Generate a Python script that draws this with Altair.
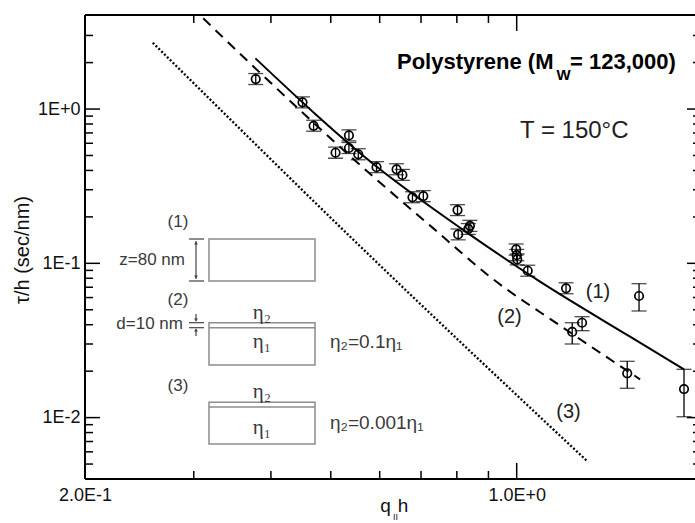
import altair as alt
import pandas as pd

# ---------------- data ----------------
pt_q = [0.378, 0.450, 0.469, 0.509, 0.535, 0.535, 0.554, 0.593, 0.639, 0.653,
        0.678, 0.706, 0.802, 0.804, 0.835, 0.840, 0.998, 1.000, 1.002, 1.042,
        1.202, 1.230, 1.276, 1.510, 1.578, 1.866]
pt_tau = [1.565, 1.105, 0.779, 0.521, 0.675, 0.559, 0.509, 0.420, 0.407, 0.374,
          0.268, 0.273, 0.2215, 0.154, 0.167, 0.175, 0.123, 0.113, 0.106, 0.0895,
          0.0689, 0.0359, 0.0412, 0.01937, 0.0614, 0.01532]
pt_lo = [1.442, 1.018, 0.718, 0.480, 0.622, 0.515, 0.469, 0.387, 0.375, 0.345,
         0.247, 0.251, 0.204, 0.142, 0.154, 0.161, 0.113, 0.104, 0.0977, 0.0825,
         0.0635, 0.0300, 0.0366, 0.01549, 0.0491, 0.01013]
pt_hi = [1.699, 1.199, 0.846, 0.566, 0.733, 0.607, 0.553, 0.456, 0.442, 0.406,
         0.291, 0.296, 0.240, 0.167, 0.181, 0.190, 0.1335, 0.123, 0.115, 0.0972,
         0.0748, 0.0412, 0.0451, 0.02317, 0.0738, 0.02056]

# model curves
c1_q = [0.3775, 0.5935, 0.820, 1.091, 1.526, 1.866]
c1_tau = [2.131, 0.4227, 0.1643, 0.0760, 0.03344, 0.02056]
c2_q = [0.3108, 0.3654, 0.586, 0.733, 0.905, 1.183, 1.584]
c2_tau = [3.871, 2.078, 0.3641, 0.1685, 0.0819, 0.0388, 0.01771]
c3_q = [0.2575, 0.586, 1.298]
c3_tau = [2.690, 0.1066, 0.00526]

# axis ticks
x_labels = [0.2, 1.0]
x_minor = [0.3, 0.4, 0.5, 0.6, 0.7, 0.8, 0.9]
x_major = [1.0]
y_labels = [1, 0.1, 0.01]
y_minor = [3, 2, 0.9, 0.8, 0.7, 0.6, 0.5, 0.4, 0.3, 0.2,
           0.09, 0.08, 0.07, 0.06, 0.05, 0.04, 0.03, 0.02,
           0.009, 0.008, 0.007, 0.006, 0.005]
y_major = [1, 0.1, 0.01]

# ---------------- setup ----------------
W, H = 610, 464
SANS = "Liberation Sans"
SERIF = "Liberation Serif"

xs = alt.Scale(type="log", domain=[0.2, 1.944], nice=False)
ys = alt.Scale(type="log", domain=[0.004, 4.07], nice=False)
xaxis = alt.Axis(values=x_labels, labelExpr="upper(format(datum.value, '.1e'))",
                 ticks=False, domain=False, grid=False, labelFont=SANS,
                 labelFontSize=18, labelColor="#111", labelPadding=7,
                 labelFlush=False, title=None)
yaxis = alt.Axis(values=y_labels, labelExpr="upper(format(datum.value, '.0e'))",
                 ticks=False, domain=False, grid=False, labelFont=SANS,
                 labelFontSize=18, labelColor="#111", labelPadding=5,
                 title=None)


def X(f):
    return alt.X(f, type="quantitative", scale=xs, axis=xaxis)


def Y(f):
    return alt.Y(f, type="quantitative", scale=ys, axis=yaxis)


pts = pd.DataFrame({"q": pt_q, "tau": pt_tau, "lo": pt_lo, "hi": pt_hi})
one = pd.DataFrame({"k": [0]})

layers = []

# frame
layers.append(alt.Chart(one).mark_rule(color="black", strokeWidth=2).encode(
    x=alt.value(0), x2=alt.value(W), y=alt.value(0)))
layers.append(alt.Chart(one).mark_rule(color="black", strokeWidth=2).encode(
    x=alt.value(0), x2=alt.value(W), y=alt.value(H)))
layers.append(alt.Chart(one).mark_rule(color="black", strokeWidth=2).encode(
    x=alt.value(0), y=alt.value(0), y2=alt.value(H)))

# ticks (inward)
xmin_df = pd.DataFrame({"v": x_minor})
xmaj_df = pd.DataFrame({"v": x_major})
ymin_df = pd.DataFrame({"v": y_minor})
ymaj_df = pd.DataFrame({"v": y_major})
tk = dict(color="black", strokeWidth=1.5)
layers += [
    alt.Chart(xmin_df).mark_rule(**tk).encode(x=X("v"), y=alt.value(0), y2=alt.value(8)),
    alt.Chart(xmaj_df).mark_rule(**tk).encode(x=X("v"), y=alt.value(0), y2=alt.value(16)),
    alt.Chart(xmin_df).mark_rule(**tk).encode(x=X("v"), y=alt.value(H), y2=alt.value(H - 8)),
    alt.Chart(xmaj_df).mark_rule(**tk).encode(x=X("v"), y=alt.value(H), y2=alt.value(H - 16)),
    alt.Chart(ymin_df).mark_rule(**tk).encode(y=Y("v"), x=alt.value(0), x2=alt.value(8)),
    alt.Chart(ymaj_df).mark_rule(**tk).encode(y=Y("v"), x=alt.value(0), x2=alt.value(15)),
    alt.Chart(ymin_df).mark_rule(**tk).encode(y=Y("v"), x=alt.value(W), x2=alt.value(W - 2)),
    alt.Chart(ymaj_df).mark_rule(**tk).encode(y=Y("v"), x=alt.value(W), x2=alt.value(W - 8)),
]

# curves
c1 = pd.DataFrame({"q": c1_q, "tau": c1_tau})
c2 = pd.DataFrame({"q": c2_q, "tau": c2_tau})
c3 = pd.DataFrame({"q": c3_q, "tau": c3_tau})
layers += [
    alt.Chart(c1).mark_line(color="black", strokeWidth=2, interpolate="monotone").encode(x=X("q"), y=Y("tau")),
    alt.Chart(c2).mark_line(color="black", strokeWidth=2, strokeDash=[10, 7], interpolate="monotone").encode(x=X("q"), y=Y("tau")),
    alt.Chart(c3).mark_line(color="black", strokeWidth=2.3, strokeDash=[2, 2], interpolate="monotone").encode(x=X("q"), y=Y("tau")),
]

# data points with error bars
layers += [
    alt.Chart(pts).mark_rule(color="black", strokeWidth=1.3).encode(x=X("q"), y=Y("lo"), y2="hi"),
    alt.Chart(pts).mark_tick(color="black", orient="horizontal", size=15, thickness=1.3).encode(x=X("q"), y=Y("lo")),
    alt.Chart(pts).mark_tick(color="black", orient="horizontal", size=15, thickness=1.3).encode(x=X("q"), y=Y("hi")),
    alt.Chart(pts).mark_point(shape="circle", filled=False, size=72, color="black", strokeWidth=1.7, opacity=1).encode(x=X("q"), y=Y("tau")),
]


def txt(s, x, y, size=18, font=SANS, weight="normal", align="center",
        baseline="middle", color="black", angle=0):
    kw = dict(text=s, fontSize=size, font=font, fontWeight=weight, align=align,
              baseline=baseline, color=color)
    if angle:
        kw["angle"] = angle
    return alt.Chart(one).mark_text(**kw).encode(x=alt.value(x), y=alt.value(y))


# annotations
layers += [
    txt("Polystyrene (M", 312, 54, size=22, weight="bold", align="left", baseline="alphabetic"),
    txt("W", 471.5, 65, size=15, weight="bold", align="left", baseline="alphabetic"),
    txt("= 123,000)", 485, 54, size=22, weight="bold", align="left", baseline="alphabetic"),
    txt("T = 150°C", 435, 123, size=24, align="left", baseline="alphabetic", color="#222"),
    txt("(1)", 513, 277, size=20, color="#222"),
    txt("(2)", 424.5, 302, size=20, color="#222"),
    txt("(3)", 483.5, 397, size=20, color="#222"),
    # axis titles
    txt("τ/h (sec/nm)", -62, 235, size=20, angle=270, color="#111"),
    txt("q", 300.5, 497, size=19, baseline="alphabetic", color="#111"),
    txt("II", 310.5, 505, size=9, baseline="alphabetic", color="#111"),
    txt("h", 318, 497, size=19, baseline="alphabetic", color="#111"),
]

# inset schematic
GR = "#8c8c8c"
GT = "#3a3a3a"


def rect(x1, x2, y1, y2):
    return alt.Chart(one).mark_rect(fillOpacity=0, stroke=GR, strokeWidth=1.5).encode(
        x=alt.value(x1), x2=alt.value(x2), y=alt.value(y1), y2=alt.value(y2))


def hline(x1, x2, y, color=GR, w=1.5):
    return alt.Chart(one).mark_rule(color=color, strokeWidth=w).encode(
        x=alt.value(x1), x2=alt.value(x2), y=alt.value(y))


def vline(x, y1, y2, color="#444", w=1.2):
    return alt.Chart(one).mark_rule(color=color, strokeWidth=w).encode(
        x=alt.value(x), y=alt.value(y1), y2=alt.value(y2))


def tri(shape, x, y):
    return alt.Chart(one).mark_point(shape=shape, filled=True, size=14, color="#444", opacity=1).encode(
        x=alt.value(x), y=alt.value(y))


layers += [
    rect(124, 230, 224, 266),
    rect(124, 230, 307.7, 350),
    hline(124, 230, 312.7),
    rect(124, 230, 387.3, 429),
    hline(124, 230, 392),
    # z arrow
    vline(111, 226, 264),
    hline(104, 119, 224, color="#444", w=1.2),
    hline(104, 119, 266, color="#444", w=1.2),
    tri("triangle-up", 111, 228),
    tri("triangle-down", 111, 262),
    # d arrows
    vline(111, 299, 306),
    vline(111, 314, 321),
    hline(104, 119, 307.7, color="#444", w=1.2),
    hline(104, 119, 312.7, color="#444", w=1.2),
    tri("triangle-down", 111, 305),
    tri("triangle-up", 111, 315),
    # texts
    txt("(1)", 93, 206.5, size=17, color=GT),
    txt("(2)", 93, 285, size=17, color=GT),
    txt("(3)", 93, 371, size=17, color=GT),
    txt("z=80 nm", 100, 245, size=17, align="right", color=GT),
    txt("d=10 nm", 98, 309, size=17, align="right", color=GT),
    txt("η₂", 177, 298, size=21, font=SERIF, color=GT),
    txt("η₁", 177, 327, size=21, font=SERIF, color=GT),
    txt("η₂", 177, 377, size=21, font=SERIF, color=GT),
    txt("η₁", 177, 413, size=21, font=SERIF, color=GT),
    txt("η₂=0.1η₁", 245, 327, size=19, align="left", color=GT),
    txt("η₂=0.001η₁", 245, 408, size=19, align="left", color=GT),
]

chart = alt.layer(*layers).properties(
    width=W, height=H,
    padding={"left": 85, "top": 15, "right": 0, "bottom": 44},
    autosize=alt.AutoSizeParams(type="none"),
).configure_view(stroke="transparent").configure(background="white")

chart.save("out.html", embed_options={"renderer": "svg", "actions": False})
